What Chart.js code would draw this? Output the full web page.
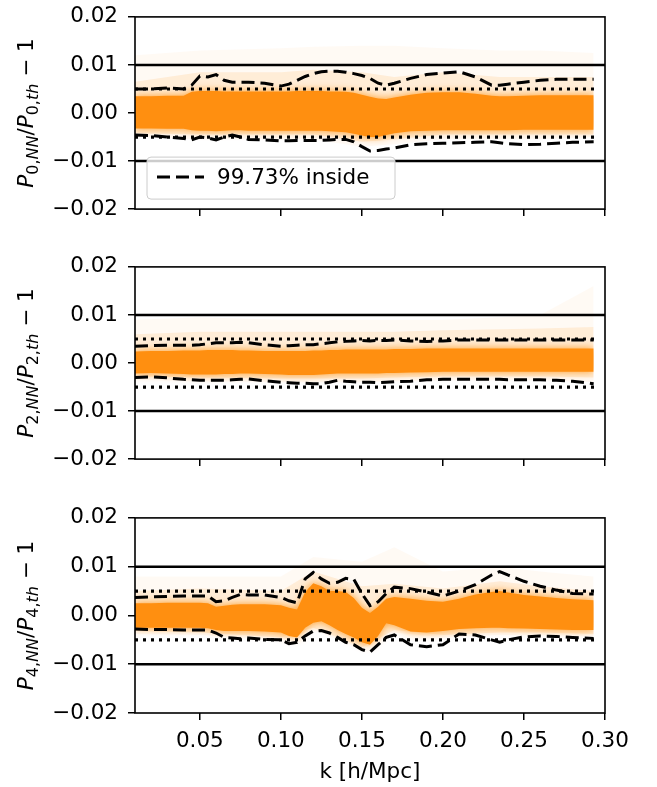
<!DOCTYPE html>
<html>
<head>
<meta charset="utf-8">
<script src="https://cdn.jsdelivr.net/npm/chart.js@4.4.1/dist/chart.umd.min.js"></script>
<style>
  body { margin: 0; background: #fff; }
  canvas { position: absolute; left: 0; }
</style>
</head>
<body>
<canvas id="c0" width="657" height="238" style="top:-6px"></canvas>
<canvas id="c2" width="657" height="238" style="top:244px"></canvas>
<canvas id="c4" width="657" height="292" style="top:495px"></canvas>
<script>
// k bins shared by band and 99.73% curves
const kGrid = [0.01, 0.02, 0.03, 0.04, 0.045, 0.05, 0.055, 0.06, 0.065, 0.07, 0.075, 0.08, 0.09, 0.10,
  0.105, 0.11, 0.115, 0.12, 0.125, 0.13, 0.135, 0.14, 0.145, 0.15, 0.155, 0.16, 0.165, 0.17,
  0.18, 0.19, 0.20, 0.21, 0.22, 0.23, 0.235, 0.24, 0.25, 0.26, 0.27, 0.28, 0.293];
const hazeK = [0.01, 0.05, 0.10, 0.12, 0.15, 0.17, 0.20, 0.235, 0.26, 0.293];
const limitK = [0.01, 0.30];
const dotK = [0.01, 0.296];
const xTicks = [0.05, 0.10, 0.15, 0.20, 0.25, 0.30];
const yTicks = [-0.02, -0.01, 0, 0.01, 0.02];

// monopole
const p0Upper = [0.005, 0.005, 0.0052, 0.005, 0.0058, 0.0077, 0.0075, 0.008, 0.0068, 0.0064, 0.0064, 0.0064, 0.0062, 0.0056,
  0.006, 0.0068, 0.0076, 0.0082, 0.0086, 0.0087, 0.0087, 0.0085, 0.0082, 0.0078, 0.0072, 0.0062, 0.0058, 0.0062,
  0.0072, 0.008, 0.0083, 0.0086, 0.0075, 0.0058, 0.0058, 0.006, 0.0064, 0.0068, 0.007, 0.007, 0.007];
const p0Lower = [-0.0046, -0.0047, -0.005, -0.0053, -0.0056, -0.005, -0.0052, -0.0056, -0.005, -0.0046, -0.005, -0.0055, -0.0056, -0.0058,
  -0.0058, -0.0057, -0.0057, -0.0057, -0.0057, -0.0056, -0.0055, -0.0055, -0.006, -0.007, -0.0079, -0.0078, -0.0075, -0.0073,
  -0.0066, -0.0064, -0.0063, -0.0062, -0.0061, -0.006, -0.0062, -0.0064, -0.0066, -0.0065, -0.0063, -0.0061, -0.006];
const p0BandTop = [0.0035, 0.0035, 0.0036, 0.0036, 0.0044, 0.0046, 0.0046, 0.0046, 0.0045, 0.0045, 0.0045, 0.0045, 0.0045, 0.0045,
  0.0045, 0.0046, 0.0046, 0.0046, 0.0046, 0.0045, 0.0045, 0.0044, 0.0042, 0.0038, 0.0034, 0.003, 0.0029, 0.0032,
  0.0038, 0.0042, 0.0043, 0.0043, 0.004, 0.0036, 0.0035, 0.0035, 0.0036, 0.0037, 0.0037, 0.0037, 0.0037];
const p0BandBot = [-0.0032, -0.0032, -0.0033, -0.0033, -0.0036, -0.0037, -0.0037, -0.0038, -0.0037, -0.0036, -0.0036, -0.0037, -0.0037, -0.0037,
  -0.0037, -0.0037, -0.0037, -0.0037, -0.0037, -0.0038, -0.0039, -0.004, -0.0043, -0.0047, -0.005, -0.005, -0.0046, -0.0042,
  -0.0038, -0.0037, -0.0036, -0.0036, -0.0036, -0.0036, -0.0036, -0.0036, -0.0035, -0.0035, -0.0035, -0.0035, -0.0035];
const p0NearTop = [0.0065, 0.0085, 0.0085, 0.009, 0.0085, 0.0075, 0.0085, 0.0075, 0.0075, 0.0075];
const p0NearBot = [-0.0042, -0.0045, -0.0045, -0.0045, -0.006, -0.0055, -0.0045, -0.0045, -0.0045, -0.0045];
const p0FarTop = [0.012, 0.013, 0.0135, 0.0138, 0.014, 0.014, 0.0135, 0.013, 0.013, 0.0125];
const p0FarBot = [-0.005, -0.0055, -0.0055, -0.0055, -0.007, -0.0065, -0.0055, -0.0055, -0.0055, -0.005];

// quadrupole
const p2Upper = [0.0035, 0.0036, 0.0037, 0.0037, 0.0037, 0.0038, 0.004, 0.0042, 0.0042, 0.0042, 0.0043, 0.0042, 0.0038, 0.0035,
  0.0036, 0.0037, 0.0038, 0.0038, 0.004, 0.0042, 0.0044, 0.0045, 0.0046, 0.0047, 0.0046, 0.0047, 0.0047, 0.0048,
  0.0046, 0.0045, 0.0046, 0.0048, 0.0048, 0.0048, 0.0048, 0.0048, 0.0048, 0.0048, 0.0048, 0.0048, 0.0048];
const p2Lower = [-0.003, -0.0029, -0.0031, -0.0034, -0.0035, -0.0036, -0.0036, -0.0036, -0.0036, -0.0035, -0.0034, -0.0033, -0.0037, -0.004,
  -0.0041, -0.0042, -0.0042, -0.0043, -0.0043, -0.004, -0.0036, -0.0038, -0.0039, -0.004, -0.004, -0.0041, -0.004, -0.0039,
  -0.0038, -0.0035, -0.0034, -0.0034, -0.0034, -0.0034, -0.0034, -0.0035, -0.0035, -0.0035, -0.0036, -0.0038, -0.0043];
const p2BandTop = [0.0024, 0.0025, 0.0025, 0.0026, 0.0026, 0.0026, 0.0027, 0.0027, 0.0027, 0.0027, 0.0026, 0.0026, 0.0025, 0.0025,
  0.0025, 0.0025, 0.0025, 0.0026, 0.0026, 0.0027, 0.0027, 0.0028, 0.0028, 0.0028, 0.0028, 0.0028, 0.0028, 0.0029,
  0.0029, 0.003, 0.003, 0.003, 0.003, 0.003, 0.003, 0.003, 0.003, 0.003, 0.003, 0.003, 0.003];
const p2BandBot = [-0.0022, -0.0021, -0.0022, -0.0023, -0.0024, -0.0024, -0.0024, -0.0024, -0.0023, -0.0023, -0.0022, -0.0022, -0.0023, -0.0024,
  -0.0025, -0.0025, -0.0025, -0.0025, -0.0024, -0.0023, -0.0022, -0.0022, -0.0022, -0.0022, -0.0022, -0.0022, -0.0021, -0.0021,
  -0.002, -0.0019, -0.0018, -0.0018, -0.0018, -0.0018, -0.0018, -0.0018, -0.0018, -0.0018, -0.0018, -0.0018, -0.0018];
const p2NearTop = [0.006, 0.0065, 0.0065, 0.0065, 0.0065, 0.0065, 0.0068, 0.007, 0.0072, 0.0075];
const p2NearBot = [-0.0028, -0.003, -0.0032, -0.0032, -0.0032, -0.003, -0.0028, -0.0028, -0.0028, -0.003];
const p2FarTop = [0.009, 0.0095, 0.009, 0.009, 0.009, 0.009, 0.009, 0.0095, 0.01, 0.016];
const p2FarBot = [-0.0035, -0.0038, -0.004, -0.004, -0.004, -0.0038, -0.0036, -0.0036, -0.0036, -0.004];

// hexadecapole
const p4Upper = [0.0037, 0.0038, 0.0039, 0.004, 0.004, 0.004, 0.004, 0.0028, 0.003, 0.0037, 0.0043, 0.0042, 0.0042, 0.0037,
  0.003, 0.0026, 0.0075, 0.0088, 0.0075, 0.0066, 0.0068, 0.0076, 0.0074, 0.0045, 0.002, 0.0028, 0.0045, 0.0058,
  0.0055, 0.0048, 0.004, 0.005, 0.0063, 0.0083, 0.009, 0.0083, 0.007, 0.006, 0.0052, 0.0045, 0.0044];
const p4Lower = [-0.0028, -0.0029, -0.0029, -0.003, -0.003, -0.003, -0.003, -0.0036, -0.0045, -0.0046, -0.0048, -0.0046, -0.0049, -0.005,
  -0.0058, -0.0055, -0.0042, -0.0032, -0.0031, -0.0036, -0.0045, -0.0055, -0.006, -0.007, -0.0075, -0.006, -0.0045, -0.004,
  -0.006, -0.0064, -0.006, -0.0038, -0.004, -0.005, -0.0055, -0.005, -0.0044, -0.0042, -0.0043, -0.0045, -0.0047];
const p4BandTop = [0.0025, 0.0025, 0.0026, 0.0026, 0.0026, 0.0026, 0.0025, 0.0018, 0.002, 0.0022, 0.0023, 0.0023, 0.0023, 0.0021,
  0.0016, 0.0012, 0.0048, 0.0066, 0.006, 0.005, 0.005, 0.0048, 0.0036, 0.0016, 0.0005, 0.0018, 0.0034, 0.0038,
  0.0034, 0.003, 0.0028, 0.0034, 0.0043, 0.0048, 0.005, 0.0047, 0.0042, 0.0039, 0.0036, 0.0033, 0.0031];
const p4BandBot = [-0.0025, -0.0025, -0.0025, -0.0025, -0.0025, -0.0025, -0.0026, -0.003, -0.0032, -0.0032, -0.0032, -0.0032, -0.0033, -0.0035,
  -0.0042, -0.0045, -0.0025, -0.0015, -0.0012, -0.002, -0.003, -0.0038, -0.0045, -0.0055, -0.006, -0.0042, -0.0016, -0.002,
  -0.0033, -0.0035, -0.0032, -0.0028, -0.0026, -0.0025, -0.0025, -0.0026, -0.0027, -0.0028, -0.0029, -0.003, -0.003];
const p4NearTop = [0.005, 0.0055, 0.005, 0.009, 0.006, 0.0065, 0.0055, 0.007, 0.006, 0.005];
const p4NearBot = [-0.0032, -0.0035, -0.0045, -0.0025, -0.0065, -0.003, -0.004, -0.0035, -0.0035, -0.0038];
const p4FarTop = [0.008, 0.008, 0.008, 0.012, 0.011, 0.014, 0.009, 0.01, 0.009, 0.008];
const p4FarBot = [-0.0038, -0.004, -0.005, -0.003, -0.007, -0.0035, -0.0045, -0.004, -0.004, -0.0042];

const FONT = '"DejaVu Sans", sans-serif';
const FS = 21.5;
const ORANGE = 'rgb(255,143,16)';
const DASH = [13, 6];

const pts = (ks, vs) => ks.map((k, i) => ({x: k, y: vs[i]}));
const fmt = v => Math.abs(v) < 1e-9 ? '0.00' : v.toFixed(2).replace('-', '\u2212');

function drawYTitle(ctx, cx, cy, n) {
  const sub = 16;
  const parts = [
    ['P', 'italic ' + FS + 'px ' + FONT, 0],
    [n + ',', sub + 'px ' + FONT, 5],
    ['NN', 'italic ' + sub + 'px ' + FONT, 5],
    ['/', FS + 'px ' + FONT, 0],
    ['P', 'italic ' + FS + 'px ' + FONT, 0],
    [n + ',', sub + 'px ' + FONT, 5],
    ['th', 'italic ' + sub + 'px ' + FONT, 5],
    [' \u2212 1', FS + 'px ' + FONT, 0]
  ];
  ctx.save();
  let total = 0;
  parts.forEach(p => { ctx.font = p[1]; total += ctx.measureText(p[0]).width; });
  ctx.translate(cx, cy);
  ctx.rotate(-Math.PI / 2);
  ctx.fillStyle = '#000';
  ctx.textBaseline = 'alphabetic';
  let x = -total / 2;
  parts.forEach(p => {
    ctx.font = p[1];
    ctx.fillText(p[0], x, 8 + p[2]);
    x += ctx.measureText(p[0]).width;
  });
  ctx.restore();
}

// Chart.js draws datasets last-to-first, so the glow is switched on after the
// band's bottom edge and off again after its top edge (whose fill sits between).
const extras = {
  id: 'extras',
  afterDatasetDraw(chart, args) {
    const ds = chart.data.datasets[args.index];
    const ctx = chart.ctx;
    if (ds.glowStart) {
      ctx.save();
      ctx.shadowColor = 'rgba(255,140,0,0.85)';
      ctx.shadowBlur = 8;
    }
    if (ds.glowEnd) ctx.restore();
  },
  afterDraw(chart) {
    const ctx = chart.ctx;
    const a = chart.chartArea;
    const o = chart.options.plugins.extras;
    if (o.legend) {
      const lx = a.left + 12, ly = a.bottom - 52, lw = 248, lh = 42;
      ctx.save();
      ctx.beginPath();
      ctx.roundRect(lx, ly, lw, lh, 4);
      ctx.fillStyle = 'rgba(255,255,255,0.8)';
      ctx.fill();
      ctx.strokeStyle = '#cccccc';
      ctx.lineWidth = 1;
      ctx.stroke();
      ctx.beginPath();
      ctx.setLineDash(DASH);
      ctx.lineWidth = 3;
      ctx.strokeStyle = '#000';
      ctx.moveTo(lx + 10, ly + 20);
      ctx.lineTo(lx + 57, ly + 20);
      ctx.stroke();
      ctx.setLineDash([]);
      ctx.fillStyle = '#000';
      ctx.font = FS + 'px ' + FONT;
      ctx.textBaseline = 'middle';
      ctx.fillText(o.legend, lx + 70, ly + 21);
      ctx.restore();
    }
    ctx.save();
    ctx.strokeStyle = '#000';
    ctx.lineWidth = 1.6;
    ctx.strokeRect(a.left, a.top, a.right - a.left, a.bottom - a.top);
    ctx.restore();
    drawYTitle(ctx, 25, (a.top + a.bottom) / 2, o.order);
  }
};

function makePanel(id, d, showX) {
  const edge = data => ({data, borderWidth: 0, pointRadius: 0, fill: false});
  const area = (data, color) => ({data, borderWidth: 0, pointRadius: 0, fill: '+1', backgroundColor: color});
  const ref = (data, w, dash) => ({data, borderColor: '#000', borderWidth: w, borderDash: dash, pointRadius: 0, fill: false});
  return new Chart(document.getElementById(id), {
    type: 'line',
    data: {
      // listed top-most first
      datasets: [
        ref(pts(kGrid, d.lower), 3, DASH),
        ref(pts(kGrid, d.upper), 3, DASH),
        ref(pts(dotK, [-0.005, -0.005]), 3.2, [3, 5]),
        ref(pts(dotK, [0.005, 0.005]), 3.2, [3, 5]),
        ref(pts(limitK, [-0.01, -0.01]), 2.5, []),
        ref(pts(limitK, [0.01, 0.01]), 2.5, []),
        Object.assign(area(pts(kGrid, d.bandTop), ORANGE), {glowEnd: true}),
        Object.assign(edge(pts(kGrid, d.bandBot)), {glowStart: true}),
        area(pts(hazeK, d.nearTop), 'rgba(255,140,0,0.12)'),
        edge(pts(hazeK, d.nearBot)),
        area(pts(hazeK, d.farTop), 'rgba(255,140,0,0.045)'),
        edge(pts(hazeK, d.farBot))
      ]
    },
    options: {
      responsive: false,
      animation: false,
      layout: {padding: {top: 16, right: 52, left: 0, bottom: 0}},
      elements: {line: {tension: 0}},
      plugins: {legend: {display: false}, tooltip: {enabled: false}, extras: {legend: d.legend, order: d.order}},
      scales: {
        x: {
          type: 'linear', min: 0.01, max: 0.30,
          afterBuildTicks: s => { s.ticks = xTicks.map(v => ({value: v})); },
          afterFit: s => { s.height = showX ? 74 : 20; },
          grid: {drawOnChartArea: false, drawTicks: true, tickLength: 7, color: '#000', lineWidth: 1.5},
          border: {display: false},
          ticks: {display: showX, padding: 9, color: '#000', maxRotation: 0, autoSkip: false,
            font: {family: FONT, size: FS}, callback: v => fmt(v)},
          title: {display: showX, text: 'k [h/Mpc]', color: '#000', font: {family: FONT, size: FS}, padding: {top: 0, bottom: 2}}
        },
        y: {
          min: -0.02, max: 0.02,
          afterBuildTicks: s => { s.ticks = yTicks.map(v => ({value: v})); },
          afterFit: s => { s.width = 135; },
          grid: {drawOnChartArea: false, drawTicks: true, tickLength: 7, color: '#000', lineWidth: 1.5},
          border: {display: false},
          ticks: {padding: 10, color: '#000', font: {family: FONT, size: FS}, callback: v => fmt(v)}
        }
      }
    },
    plugins: [extras]
  });
}

makePanel('c0', {upper: p0Upper, lower: p0Lower, bandTop: p0BandTop, bandBot: p0BandBot,
  nearTop: p0NearTop, nearBot: p0NearBot, farTop: p0FarTop, farBot: p0FarBot, legend: '99.73% inside', order: '0'}, false);
makePanel('c2', {upper: p2Upper, lower: p2Lower, bandTop: p2BandTop, bandBot: p2BandBot,
  nearTop: p2NearTop, nearBot: p2NearBot, farTop: p2FarTop, farBot: p2FarBot, legend: null, order: '2'}, false);
makePanel('c4', {upper: p4Upper, lower: p4Lower, bandTop: p4BandTop, bandBot: p4BandBot,
  nearTop: p4NearTop, nearBot: p4NearBot, farTop: p4FarTop, farBot: p4FarBot, legend: null, order: '4'}, true);
</script>
</body>
</html>
